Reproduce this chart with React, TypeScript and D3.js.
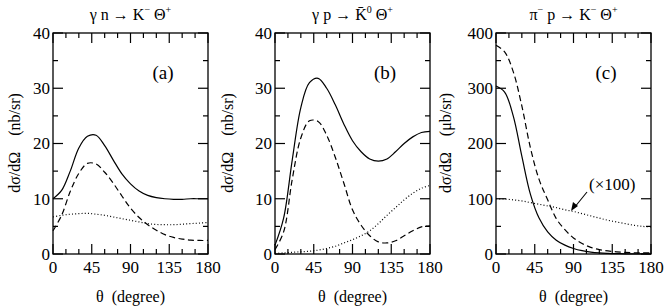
import React, { useEffect } from "react"
import * as d3 from "d3"

// angles (degree) at which the curves were read
const theta = [0, 10, 20, 30, 40, 50, 60, 70, 80, 90, 100, 110, 120, 130, 140, 150, 160, 170, 180]

// (a) gamma n -> K- Theta+
const aSolid = [10, 11.5, 15, 19.2, 21.3, 21.5, 19.6, 17, 14.5, 12.7, 11.4, 10.6, 10.2, 10, 9.9, 9.9, 10, 10, 10]
const aDashed = [4.2, 7.0, 11.3, 14.6, 16.4, 16.3, 14.8, 12.8, 10.5, 8.3, 6.6, 5.3, 4.3, 3.5, 3.0, 2.7, 2.5, 2.45, 2.45]
const aDotted = [6.7, 7.0, 7.2, 7.3, 7.35, 7.2, 7.0, 6.7, 6.4, 6.1, 5.8, 5.5, 5.35, 5.3, 5.3, 5.4, 5.5, 5.6, 5.7]

// (b) gamma p -> K0bar Theta+
const bSolid = [1.6, 6.5, 17, 26.5, 31, 31.8, 30, 27, 23.5, 20.5, 18.5, 17.2, 16.8, 17.2, 18.5, 20, 21.2, 22, 22.2]
const bDashed = [0.8, 4.0, 13.5, 21, 24.1, 24, 21.5, 17.5, 12.8, 8, 5.2, 3.3, 2.2, 2.0, 2.4, 3.3, 4.2, 4.9, 5.1]
const bDotted = [0.1, 0.2, 0.3, 0.4, 0.5, 0.7, 1.0, 1.4, 2.0, 2.6, 3.3, 4.2, 5.5, 7.0, 8.4, 9.8, 11.0, 11.9, 12.4]

// (c) pi- p -> K- Theta+
const cSolid = [304, 293, 250, 177, 108, 65, 40, 25, 16, 10, 6, 3.5, 2, 1.2, 0.7, 0.4, 0.2, 0.1, 0]
const cDashed = [378, 366, 330, 268, 192, 135, 98, 64, 44, 29, 19, 12, 8, 5.5, 4, 3, 2.5, 2, 2]
const cDotted = [100, 99.5, 98, 96, 93, 90, 87, 84, 80, 77, 73, 69, 65, 61, 58, 55, 52, 50, 49]

const xTicks = [0, 45, 90, 135, 180]
const yTicksNb = [0, 10, 20, 30, 40]
const yTicksMb = [0, 100, 200, 300, 400]

const top = 33
const bottom = 254
const w = 155
const serif = "Liberation Serif"

type PanelProps = {
  left: number
  yMax: number
  yTicks: number[]
  minorStep: number
  series: number[][]
  label: string
  ylabX: number
  unit: string
  title: React.ReactNode
  children?: React.ReactNode
}

const dashes = [undefined, "6,3.5", "1,2.2"]

const Panel = ({ left, yMax, yTicks, minorStep, series, label, ylabX, unit, title, children }: PanelProps) => {
  const x = d3.scaleLinear().domain([0, 180]).range([left, left + w])
  const y = d3.scaleLinear().domain([0, yMax]).range([bottom, top])
  const line = d3
    .line<number>()
    .x((_, i) => x(theta[i]))
    .y((d) => y(d))
    .curve(d3.curveCatmullRom.alpha(0.5))
  const xMinor = d3.range(0, 181, 15).filter((t) => t % 45 !== 0)
  const yMinor = d3.range(0, yMax + 1, minorStep).filter((t) => !yTicks.includes(t))
  const cx = left + w / 2
  return (
    <g>
      {series.map((s, i) => (
        <path key={i} d={line(s) || ""} fill="none" stroke="black" strokeWidth={1.2} strokeDasharray={dashes[i]} />
      ))}
      {xTicks.map((t) => (
        <g key={"x" + t}>
          <line x1={x(t)} x2={x(t)} y1={bottom} y2={bottom - 10} stroke="black" strokeWidth={1.2} />
          <line x1={x(t)} x2={x(t)} y1={top} y2={top + 10} stroke="black" strokeWidth={1.2} />
          <text x={x(t)} y={273} textAnchor="middle" fontSize={17} fontFamily={serif}>
            {t}
          </text>
        </g>
      ))}
      {xMinor.map((t) => (
        <g key={"xm" + t}>
          <line x1={x(t)} x2={x(t)} y1={bottom} y2={bottom - 5} stroke="black" strokeWidth={1.2} />
          <line x1={x(t)} x2={x(t)} y1={top} y2={top + 5} stroke="black" strokeWidth={1.2} />
        </g>
      ))}
      {yTicks.map((t) => (
        <g key={"y" + t}>
          <line x1={left} x2={left + 10} y1={y(t)} y2={y(t)} stroke="black" strokeWidth={1.2} />
          <line x1={left + w} x2={left + w - 10} y1={y(t)} y2={y(t)} stroke="black" strokeWidth={1.2} />
          <text x={left - 3} y={y(t)} dy="0.35em" textAnchor="end" fontSize={17} fontFamily={serif}>
            {t}
          </text>
        </g>
      ))}
      {yMinor.map((t) => (
        <g key={"ym" + t}>
          <line x1={left} x2={left + 5} y1={y(t)} y2={y(t)} stroke="black" strokeWidth={1.2} />
          <line x1={left + w} x2={left + w - 5} y1={y(t)} y2={y(t)} stroke="black" strokeWidth={1.2} />
        </g>
      ))}
      <rect x={left} y={top} width={w} height={bottom - top} fill="none" stroke="black" strokeWidth={1.3} />
      <text x={left + w - 45} y={79} textAnchor="middle" fontSize={19} fontFamily={serif}>
        {label}
      </text>
      <text x={cx} y={20} textAnchor="middle" fontSize={16} fontFamily={serif}>
        {title}
      </text>
      <text x={cx} y={302} textAnchor="middle" fontSize={16} fontFamily={serif}>
        {"θ\u00a0\u00a0(degree)"}
      </text>
      <text
        transform={`translate(${ylabX},143) rotate(-90)`}
        textAnchor="middle"
        fontSize={16}
        fontFamily={serif}
      >
        {"dσ/dΩ\u00a0\u00a0\u00a0\u00a0(" + unit + ")"}
      </text>
      {children}
    </g>
  )
}

const sup = (s: string) => (
  <tspan dy={-7} fontSize={10}>
    {s}
  </tspan>
)
const down = <tspan dy={7}>{"\u00a0"}</tspan>

const App = () => {
  // drop the default body margin so the chart sits at the page corner
  useEffect(() => {
    document.body.style.margin = "0"
  }, [])

  return (
    <svg width={664} height={307}>
      <Panel
        left={53}
        yMax={40}
        yTicks={yTicksNb}
        minorStep={5}
        series={[aSolid, aDashed, aDotted]}
        label="(a)"
        ylabX={20}
        unit="nb/sr"
        title={
          <>
            γ n → K{sup("−")}
            {down}Θ{sup("+")}
          </>
        }
      />
      <Panel
        left={275}
        yMax={40}
        yTicks={yTicksNb}
        minorStep={5}
        series={[bSolid, bDashed, bDotted]}
        label="(b)"
        ylabX={233}
        unit="nb/sr"
        title={
          <>
            γ p → K̄{sup("0")}
            {down}Θ{sup("+")}
          </>
        }
      />
      <Panel
        left={496}
        yMax={400}
        yTicks={yTicksMb}
        minorStep={50}
        series={[cSolid, cDashed, cDotted]}
        label="(c)"
        ylabX={451}
        unit="μb/sr"
        title={
          <>
            π{sup("−")}
            {down}p → K{sup("−")}
            {down}Θ{sup("+")}
          </>
        }
      >
        <text x={589} y={190} fontSize={17} fontFamily={serif}>
          (×100)
        </text>
        <line x1={587} y1={192} x2={574} y2={208} stroke="black" strokeWidth={1.1} />
        <path d="M571,211 L573,202 L578,206 Z" fill="black" />
      </Panel>
    </svg>
  )
}

export default App
